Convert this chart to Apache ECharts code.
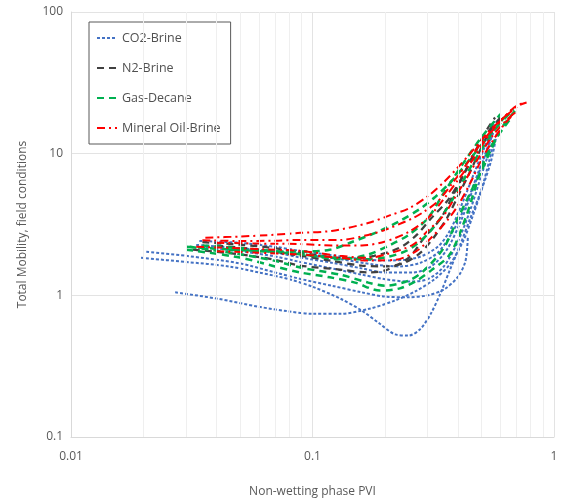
<!DOCTYPE html>
<html>
<head>
<meta charset="utf-8">
<script src="https://cdn.jsdelivr.net/npm/echarts@6/dist/echarts.min.js"></script>
<style>
  html, body { margin: 0; padding: 0; background: #fff; }
  #chart { width: 561px; height: 503px; }
</style>
</head>
<body>
<div id="chart"></div>
<script>
// Donnees: [PVI, mobilite totale]
const co2Brine = [
  [[0.027,1.05],[0.04,0.95],[0.06,0.83],[0.08,0.77],[0.1,0.74],[0.13,0.74],[0.17,0.8],[0.22,0.92],[0.27,1.08],[0.32,1.3],[0.37,1.65],[0.42,2.4],[0.46,3.6],[0.5,5.5],[0.54,9],[0.57,13]],
  [[0.0195,1.84],[0.03,1.72],[0.045,1.6],[0.06,1.45],[0.08,1.3],[0.1,1.15],[0.13,0.95],[0.16,0.78],[0.19,0.63],[0.22,0.53],[0.25,0.52],[0.28,0.58],[0.31,0.75],[0.34,1.05],[0.37,1.5],[0.41,2.3],[0.45,3.5],[0.5,5.5],[0.55,9],[0.58,14]],
  [[0.0205,2.03],[0.03,1.9],[0.05,1.68],[0.07,1.45],[0.09,1.3],[0.12,1.17],[0.16,1.05],[0.2,0.98],[0.25,0.97],[0.3,1.0],[0.35,1.1],[0.4,1.35],[0.43,1.75],[0.44,2.6]],
  [[0.034,2.42],[0.05,2.35],[0.07,2.2],[0.089,2.06],[0.12,1.92],[0.16,1.8],[0.2,1.76],[0.27,1.84],[0.33,2.2],[0.37,2.85],[0.42,4.6],[0.47,7.5],[0.52,11.5],[0.57,17]],
  [[0.033,2.27],[0.05,2.15],[0.07,2.0],[0.089,1.85],[0.12,1.7],[0.16,1.55],[0.2,1.45],[0.26,1.45],[0.31,1.6],[0.36,2.1],[0.41,3.3],[0.46,5.5],[0.51,9],[0.56,14]],
  [[0.036,2.17],[0.05,2.05],[0.07,1.88],[0.089,1.72],[0.12,1.55],[0.16,1.4],[0.2,1.3],[0.25,1.25],[0.3,1.3],[0.35,1.6],[0.4,2.4],[0.45,4],[0.5,7],[0.55,11.5]],
  [[0.04,2.2],[0.06,2.1],[0.09,1.95],[0.13,1.8],[0.18,1.65],[0.23,1.6],[0.28,1.7],[0.33,2.0],[0.38,2.8],[0.43,4.3],[0.48,7],[0.53,11],[0.57,16]]
];
const n2Brine = [
  [[0.032,2.1],[0.05,1.95],[0.07,1.78],[0.089,1.62],[0.13,1.52],[0.17,1.45],[0.2,1.5],[0.25,1.84],[0.29,2.55],[0.34,3.5],[0.38,5],[0.43,7.5],[0.48,11],[0.53,15],[0.57,18]],
  [[0.035,2.37],[0.05,2.28],[0.07,2.15],[0.089,2.0],[0.14,1.82],[0.18,1.9],[0.23,2.17],[0.27,2.67],[0.31,3.5],[0.36,4.6],[0.41,6.5],[0.46,9.5],[0.52,13.5],[0.6,18]],
  [[0.04,2.25],[0.06,2.1],[0.09,1.9],[0.12,1.75],[0.16,1.62],[0.2,1.6],[0.24,1.7],[0.28,2.0],[0.32,2.6],[0.36,3.5],[0.4,5],[0.45,7.5],[0.5,11],[0.55,15],[0.6,17.5]]
];
const gasDecane = [
  [[0.045,2.1],[0.07,2.04],[0.09,2.04],[0.118,2.1],[0.143,2.35],[0.19,2.85],[0.23,3.35],[0.28,4.1],[0.32,4.9],[0.38,6.5],[0.45,9.2],[0.55,14],[0.68,20.6]],
  [[0.03,2.1],[0.05,1.85],[0.07,1.6],[0.089,1.45],[0.118,1.34],[0.15,1.23],[0.19,1.08],[0.23,1.12],[0.27,1.27],[0.31,1.5],[0.37,1.94],[0.43,3.5],[0.49,7],[0.54,10.8],[0.66,17.6]],
  [[0.031,2.2],[0.05,1.95],[0.07,1.75],[0.089,1.57],[0.13,1.4],[0.17,1.23],[0.2,1.17],[0.25,1.27],[0.29,1.5],[0.35,2.17],[0.4,3.5],[0.46,5.7],[0.5,7.5],[0.55,10.8],[0.62,16],[0.7,20.6]],
  [[0.035,2.25],[0.06,2.1],[0.09,1.95],[0.13,1.8],[0.17,1.94],[0.21,2.27],[0.25,2.67],[0.3,3.5],[0.35,5.3],[0.42,8.5],[0.5,13],[0.6,19]],
  [[0.03,2.2],[0.06,2.05],[0.09,1.95],[0.12,1.85],[0.16,1.8],[0.2,1.85],[0.25,2.1],[0.3,2.7],[0.35,3.8],[0.4,5.5],[0.46,8.5],[0.54,13],[0.62,18]]
];
const mineralOilBrine = [
  [[0.036,2.55],[0.05,2.6],[0.07,2.68],[0.089,2.76],[0.12,2.85],[0.17,3.24],[0.21,3.68],[0.25,4.1],[0.3,5],[0.35,6.3],[0.4,8],[0.46,10.5],[0.53,14],[0.62,18],[0.72,22],[0.77,23]],
  [[0.035,2.45],[0.05,2.42],[0.07,2.43],[0.089,2.46],[0.13,2.46],[0.17,2.67],[0.2,2.9],[0.26,3.5],[0.29,3.9],[0.33,4.6],[0.38,6.2],[0.44,8.7],[0.5,12],[0.58,16],[0.68,21],[0.75,23]],
  [[0.033,2.2],[0.05,2.15],[0.07,2.1],[0.089,2.06],[0.13,1.9],[0.17,1.84],[0.2,1.94],[0.26,2.27],[0.3,2.85],[0.35,3.68],[0.38,4.6],[0.43,6.5],[0.49,9.5],[0.55,13],[0.63,17],[0.7,20]],
  [[0.04,2.05],[0.06,2.0],[0.089,1.94],[0.13,1.84],[0.17,1.76],[0.22,1.78],[0.27,2.06],[0.31,2.55],[0.36,3.35],[0.4,4.3],[0.45,6.2],[0.5,9],[0.56,12.5],[0.63,16.5],[0.7,20]],
  [[0.04,2.35],[0.06,2.32],[0.089,2.3],[0.12,2.25],[0.16,2.25],[0.2,2.4],[0.25,2.8],[0.3,3.5],[0.35,4.8],[0.4,6.5],[0.46,9],[0.52,12.5],[0.6,17],[0.68,21]]
];
const xMinorGrid = [0.02,0.03,0.04,0.05,0.06,0.07,0.08,0.09,0.2,0.3,0.4,0.5,0.6,0.7,0.8,0.9];

const groups = [
  { name: "CO2-Brine", curves: co2Brine, color: "#4472C4", width: 2, dash: [3, 2] },
  { name: "N2-Brine", curves: n2Brine, color: "#404040", width: 2.25, dash: [7, 5] },
  { name: "Gas-Decane", curves: gasDecane, color: "#00B050", width: 2.5, dash: [7, 5] },
  { name: "Mineral Oil-Brine", curves: mineralOilBrine, color: "#FF0000", width: 2, dash: [8, 4, 2, 4] }
];

const FONT = "Open Sans";
const TXT = "#595959";

const series = [{
  type: "line",
  data: [],
  z: 1,
  silent: true,
  markLine: {
    silent: true,
    symbol: "none",
    label: { show: false },
    lineStyle: { color: "#EFEFEF", width: 1, type: "solid" },
    data: xMinorGrid.map((v) => ({ xAxis: v }))
  }
}];

groups.forEach((g) => {
  g.curves.forEach((c) => {
    series.push({
      name: g.name,
      type: "line",
      data: c,
      smooth: 0.3,
      symbol: "none",
      color: g.color,
      lineStyle: { color: g.color, width: g.width, type: g.dash },
      emphasis: { disabled: true }
    });
  });
});

const chart = echarts.init(document.getElementById("chart"));
chart.setOption({
  animation: false,
  backgroundColor: "#fff",
  grid: { left: 71, right: 7, top: 12, bottom: 62 },
  legend: {
    data: groups.map((g) => g.name),
    orient: "vertical",
    left: 89,
    top: 22,
    padding: [9, 10, 9, 7],
    itemWidth: 20,
    itemHeight: 14,
    itemGap: 16,
    borderColor: "#595959",
    borderWidth: 1,
    backgroundColor: "#fff",
    itemStyle: { opacity: 0 },
    textStyle: { fontFamily: FONT, fontSize: 12.5, color: "#505050", lineHeight: 14 }
  },
  xAxis: {
    type: "log",
    logBase: 10,
    min: 0.01,
    max: 1,
    name: "Non-wetting phase PVI",
    nameLocation: "middle",
    nameGap: 49,
    nameTextStyle: { fontFamily: FONT, fontSize: 12, color: TXT },
    axisLine: { lineStyle: { color: "#D9D9D9" } },
    axisTick: { show: false },
    axisLabel: { fontFamily: FONT, fontSize: 12, color: TXT, margin: 14 },
    splitLine: { show: true, lineStyle: { color: "#E3E3E3" } }
  },
  yAxis: {
    type: "log",
    logBase: 10,
    min: 0.1,
    max: 100,
    name: "Total Mobility, field conditions",
    nameLocation: "middle",
    nameGap: 42,
    nameTextStyle: { fontFamily: FONT, fontSize: 12, color: TXT },
    axisLine: { show: true, lineStyle: { color: "#D9D9D9" } },
    axisTick: { show: false },
    axisLabel: { fontFamily: FONT, fontSize: 12, color: TXT, margin: 8 },
    splitLine: { show: true, lineStyle: { color: "#E3E3E3" } }
  },
  series: series
});
</script>
</body>
</html>
